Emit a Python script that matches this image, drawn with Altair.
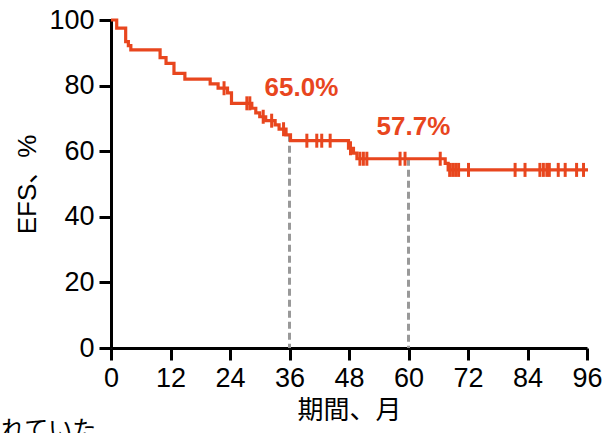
import altair as alt
import pandas as pd

# Kaplan-Meier step curve (months, EFS %)
step_months = [0, 1.15, 2.96, 3.5, 4.0, 9.9, 11.1, 12.7, 14.9, 20.0, 21.6, 23.5, 24.3,
               28.4, 29.2, 30.0, 31.2, 33.1, 33.9, 35.3, 36.2, 47.9, 48.9, 49.6,
               67.4, 68.0, 96.2]
step_efs = [100, 97.5, 93.4, 92.2, 90.9, 88.5, 86.8, 83.7, 82.0, 80.5, 79.2, 77.8, 74.6,
            73.1, 71.7, 70.5, 69.3, 68.0, 66.7, 65.0, 63.2, 60.9, 59.4, 57.7,
            56.3, 54.3, 54.3]

# censored observations
censor_months = [22.8, 27.4, 28.0, 30.7, 32.4, 34.8, 39.5, 41.5, 42.5, 44.2, 48.3,
                 50.2, 50.9, 51.6, 58.3, 59.3, 66.4, 68.3, 68.9, 69.5, 70.1, 72.1,
                 81.5, 83.5, 86.5, 87.2, 87.9, 88.4, 90.2, 91.6, 93.9, 95.3]

# landmark annotations
mark_months = [36, 60]
mark_efs = [65.0, 57.7]
mark_labels = ["65.0%", "57.7%"]
label_months = [38.4, 61.0]
label_efs = [79.2, 67.5]

x_ticks = [0, 12, 24, 36, 48, 60, 72, 84, 96]
y_ticks = [0, 20, 40, 60, 80, 100]

RED = "#E8461E"
FONT = "Liberation Sans, Arial, Noto Sans CJK JP"


def efs_at(t):
    v = step_efs[0]
    for m, s in zip(step_months, step_efs):
        if m <= t:
            v = s
    return v


curve_df = pd.DataFrame({"month": step_months, "efs": step_efs})
censor_df = pd.DataFrame({"month": censor_months,
                          "efs": [efs_at(t) for t in censor_months]})
rule_df = pd.DataFrame({"month": mark_months, "efs": mark_efs, "zero": [0, 0]})
label_df = pd.DataFrame({"month": label_months, "efs": label_efs, "label": mark_labels})

xs = alt.Scale(domain=[0, 96], nice=False, zero=False)
ys = alt.Scale(domain=[0, 100], nice=False)

x_axis = alt.Axis(values=x_ticks, title="期間、月", grid=False, labelFontSize=27,
                  titleFontSize=26, titleFontWeight="normal", labelPadding=5,
                  titlePadding=6, labelFont=FONT, titleFont=FONT, labelFlush=False)
y_axis = alt.Axis(values=y_ticks, title="EFS、%", grid=False, labelFontSize=27,
                  titleFontSize=26, titleFontWeight="normal", labelPadding=5,
                  titlePadding=8, labelFont=FONT, titleFont=FONT)

rules = alt.Chart(rule_df).mark_rule(color="#999999", strokeWidth=3,
                                      strokeDash=[7, 4]).encode(
    x=alt.X("month:Q", scale=xs, axis=x_axis),
    y=alt.Y("efs:Q", scale=ys, axis=y_axis),
    y2="zero:Q",
)

line = alt.Chart(curve_df).mark_line(interpolate="step-after", color=RED,
                                     strokeWidth=3.2).encode(
    x=alt.X("month:Q", scale=xs),
    y=alt.Y("efs:Q", scale=ys),
)

ticks = alt.Chart(censor_df).mark_tick(orient="vertical", color=RED, thickness=3,
                                       size=14, opacity=1).encode(
    x=alt.X("month:Q", scale=xs),
    y=alt.Y("efs:Q", scale=ys),
)

labels = alt.Chart(label_df).mark_text(color=RED, fontSize=26, fontWeight="bold",
                                       font=FONT, align="center",
                                       baseline="middle").encode(
    x=alt.X("month:Q", scale=xs),
    y=alt.Y("efs:Q", scale=ys),
    text="label:N",
)

caption = alt.Chart(pd.DataFrame({"t": ["れていた"]})).mark_text(
    fontSize=24, font=FONT, align="left", baseline="top", color="black"
).encode(x=alt.value(-110), y=alt.value(399), text="t:N")

chart = alt.layer(rules, line, ticks, labels, caption).properties(
    width=476, height=328,
    autosize=alt.AutoSizeParams(type="none"),
    padding={"left": 111, "top": 20, "right": 16, "bottom": 85},
).configure_view(stroke=None).configure_axis(
    domainColor="black", domainWidth=3, tickColor="black", tickWidth=3,
    tickSize=12, labelColor="black", titleColor="black",
)

chart.save("out.html", embed_options={"renderer": "svg", "actions": False})
